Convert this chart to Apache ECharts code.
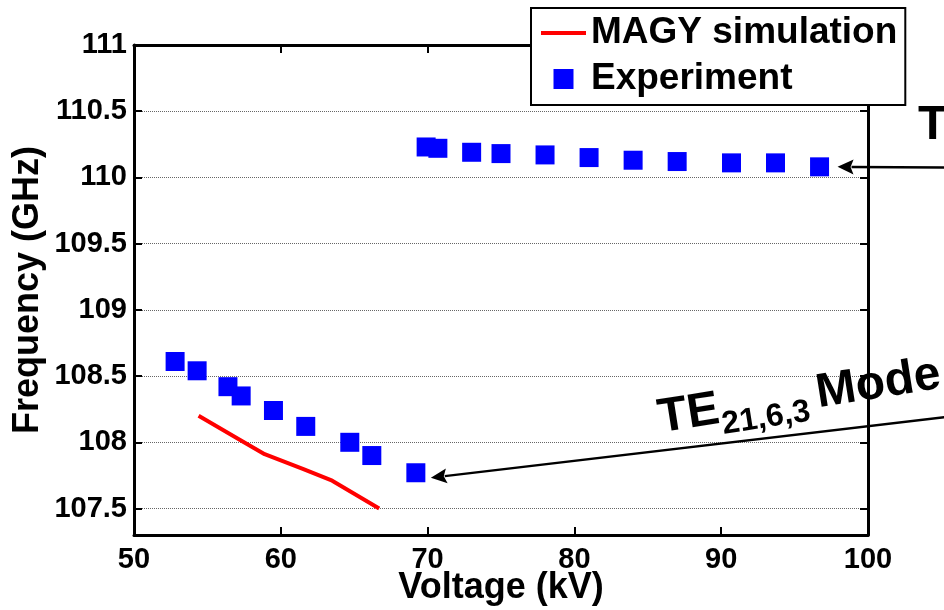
<!DOCTYPE html>
<html>
<head>
<meta charset="utf-8">
<script src="https://cdn.jsdelivr.net/npm/echarts@6/dist/echarts.min.js"></script>
<style>
  html, body { margin: 0; padding: 0; background: #ffffff; }
  #chart { width: 944px; height: 610px; }
</style>
</head>
<body>
<div id="chart"></div>
<script>
// Axis ticks
const voltageTicks = [50, 60, 70, 80, 90, 100];
const frequencyTicks = [107.5, 108, 108.5, 109, 109.5, 110, 110.5, 111];

// Measured oscillation frequency, lower-voltage branch (TE21,6,3)
const expLowV = [52.8, 54.3, 56.4, 57.3, 59.5, 61.7, 64.7, 66.2, 69.2];
const expLowF = [108.61, 108.54, 108.42, 108.35, 108.24, 108.12, 108.00, 107.90, 107.77];

// Measured oscillation frequency, higher-voltage branch
const expHighV = [69.9, 70.7, 73.0, 75.0, 78.0, 81.0, 84.0, 87.0, 90.7, 93.7, 96.7];
const expHighF = [110.23, 110.22, 110.19, 110.18, 110.17, 110.15, 110.13, 110.12, 110.11, 110.11, 110.08];

// MAGY simulation curve
const magyV = [54.4, 57.2, 58.9, 61.5, 63.5, 66.7];
const magyF = [108.20, 108.02, 107.91, 107.80, 107.71, 107.50];

const FONT = 'Liberation Sans, Arial, Helvetica, sans-serif';

const pairs = (xs, ys) => xs.map((x, i) => [x, ys[i]]);
const experimentData = pairs(expLowV, expLowF).concat(pairs(expHighV, expHighF));
const magyData = pairs(magyV, magyF);

const xMin = voltageTicks[0], xMax = voltageTicks[voltageTicks.length - 1];
const yMin = 107.3, yMax = frequencyTicks[frequencyTicks.length - 1];

const axisLine = { show: true, onZero: false, lineStyle: { color: '#000', width: 3 } };
const tick = { show: true, inside: true, length: 8, lineStyle: { color: '#000', width: 2 } };
const labelStyle = { color: '#000', fontSize: 29, fontWeight: 'bold', fontFamily: FONT };

const chart = echarts.init(document.getElementById('chart'), null, { renderer: 'canvas' });

chart.setOption({
  animation: false,
  backgroundColor: '#ffffff',
  grid: { left: 134, right: 76, top: 45, bottom: 75, containLabel: false, outerBoundsMode: 'none' },
  legend: {
    orient: 'vertical',
    left: 531,
    top: 8,
    data: [
      { name: 'MAGY simulation', icon: 'path://M0,0L45,0L45,4L0,4Z' },
      { name: 'Experiment', icon: 'path://M0,0L20,0L20,20L0,20Z' }
    ],
    symbolKeepAspect: true,
    itemWidth: 45,
    itemHeight: 20,
    itemGap: 6,
    padding: [5, 8, 6, 10],
    backgroundColor: '#ffffff',
    borderColor: '#000',
    borderWidth: 2,
    borderRadius: 0,
    textStyle: { color: '#000', fontSize: 37, fontWeight: 'bold', fontFamily: FONT, lineHeight: 40 }
  },
  xAxis: [
    {
      type: 'value', position: 'bottom', min: xMin, max: xMax, interval: 10,
      axisLine: axisLine, axisTick: tick,
      axisLabel: Object.assign({ margin: 10 }, labelStyle),
      splitLine: { show: false },
      name: 'Voltage (kV)', nameLocation: 'middle', nameGap: 35, nameMoveOverlap: false,
      nameTextStyle: { color: '#000', fontSize: 36, fontWeight: 'bold', fontFamily: FONT }
    },
    {
      type: 'value', position: 'top', min: xMin, max: xMax, interval: 10,
      axisLine: axisLine, axisTick: tick, axisLabel: { show: false }, splitLine: { show: false }
    }
  ],
  yAxis: [
    {
      type: 'value', position: 'left', min: yMin, max: yMax,
      axisLine: axisLine,
      axisTick: Object.assign({ customValues: frequencyTicks }, tick),
      axisLabel: Object.assign({ margin: 7, customValues: frequencyTicks }, labelStyle),
      splitLine: { show: true, lineStyle: { color: '#666', width: 1, type: 'dotted' } },
      name: 'Frequency (GHz)', nameLocation: 'middle', nameGap: 88, nameMoveOverlap: false,
      nameTextStyle: { color: '#000', fontSize: 36, fontWeight: 'bold', fontFamily: FONT }
    },
    {
      type: 'value', position: 'right', min: yMin, max: yMax,
      axisLine: axisLine,
      axisTick: Object.assign({ customValues: frequencyTicks }, tick),
      axisLabel: { show: false, customValues: frequencyTicks },
      splitLine: { show: false }
    }
  ],
  series: [
    {
      name: 'MAGY simulation', type: 'line', data: magyData,
      xAxisIndex: 0, yAxisIndex: 0,
      symbol: 'none', smooth: false,
      lineStyle: { color: '#ff0000', width: 4 },
      itemStyle: { color: '#ff0000' },
      z: 3
    },
    {
      name: 'Experiment', type: 'scatter', data: experimentData,
      xAxisIndex: 0, yAxisIndex: 0,
      symbol: 'rect', symbolSize: 19,
      itemStyle: { color: '#0000ff', opacity: 1 },
      z: 4
    }
  ]
});

// Annotation arrows anchored on the last point of each branch
function arrow(tip, tail) {
  const dx = tail[0] - tip[0], dy = tail[1] - tip[1];
  const len = Math.sqrt(dx * dx + dy * dy);
  const ux = dx / len, uy = dy / len;
  const nx = -uy, ny = ux;
  const headLen = 16, headHalf = 7.5;
  const bx = tip[0] + ux * headLen, by = tip[1] + uy * headLen;
  return [
    { type: 'line', z: 10, shape: { x1: bx - ux * 2, y1: by - uy * 2, x2: tail[0], y2: tail[1] },
      style: { stroke: '#000', lineWidth: 2.5 } },
    { type: 'polygon', z: 10, shape: { points: [tip, [bx + nx * headHalf, by + ny * headHalf], [bx - ux * 3, by - uy * 3], [bx - nx * headHalf, by - ny * headHalf]] },
      style: { fill: '#000' } }
  ];
}

const lowEnd = chart.convertToPixel({ xAxisIndex: 0, yAxisIndex: 0 }, [expLowV[expLowV.length - 1], expLowF[expLowF.length - 1]]);
const highEnd = chart.convertToPixel({ xAxisIndex: 0, yAxisIndex: 0 }, [expHighV[expHighV.length - 1], expHighF[expHighF.length - 1]]);

const modeAngle = 9 * Math.PI / 180;
const bigFont = 'bold 48px ' + FONT;
const subFont = 'bold 32px ' + FONT;

chart.setOption({
  graphic: [].concat(
    arrow([lowEnd[0] + 15, lowEnd[1] + 5], [946, 417]),
    arrow([highEnd[0] + 18, highEnd[1]], [946, 167.5]),
    [
      {
        type: 'group', x: 661, y: 435, rotation: modeAngle, z: 11,
        children: [
          { type: 'text', x: 0, y: -16, style: { text: 'TE', font: bigFont, fill: '#000', verticalAlign: 'middle', align: 'left' } },
          { type: 'text', x: 62, y: 0, style: { text: '21,6,3', font: subFont, fill: '#000', verticalAlign: 'middle', align: 'left' } },
          { type: 'text', x: 160, y: -16, style: { text: 'Mode', font: bigFont, fill: '#000', verticalAlign: 'middle', align: 'left' } }
        ]
      },
      { type: 'text', x: 918, y: 126, z: 11, style: { text: 'TE', font: bigFont, fill: '#000', verticalAlign: 'middle', align: 'left' } }
    ]
  )
});
</script>
</body>
</html>
